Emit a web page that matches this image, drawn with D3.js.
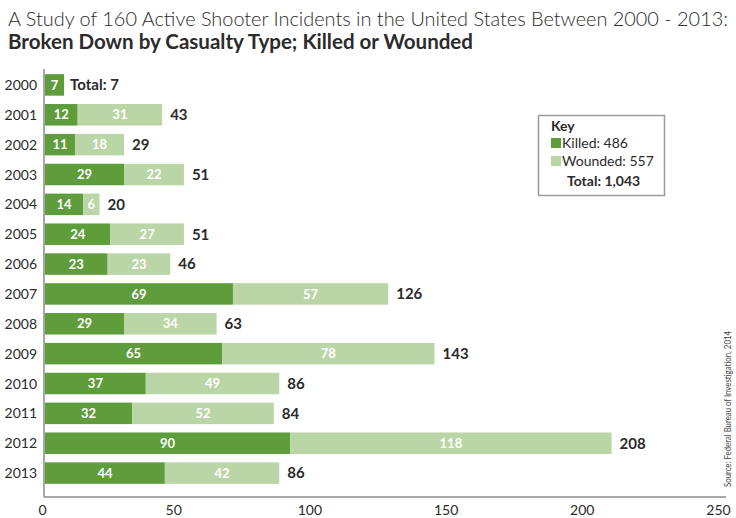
<!DOCTYPE html>
<html><head><meta charset="utf-8">
<script src="https://cdn.jsdelivr.net/npm/d3@7"></script>
<style>
html,body{margin:0;padding:0;background:#fff;}
svg{display:block;font-family:Lato,"Open Sans",sans-serif;}
</style></head>
<body>
<script>
const years = ["2000","2001","2002","2003","2004","2005","2006","2007","2008","2009","2010","2011","2012","2013"];
const killed = [7,12,11,29,14,24,23,69,29,65,37,32,90,44];
const wounded = [0,31,18,22,6,27,23,57,34,78,49,52,118,42];
const xTicks = [0,50,100,150,200,250];
const legendItems = [{label:"Killed: 486", key:"killed"},{label:"Wounded: 557", key:"wounded"}];
const legendTotal = "Total: 1,043";
const titleText = "A Study of 160 Active Shooter Incidents in the United States Between 2000 - 2013:";
const subtitleText = "Broken Down by Casualty Type; Killed or Wounded";
const sourceText = "Source: Federal Bureau of Investigation, 2014";

const W = 736, H = 518;
const colors = {killed:"#5e9c3c", wounded:"#bad6a7"};
const textCol = "#2b2b2b";

const svg = d3.select("body").append("svg").attr("width", W).attr("height", H);

const x = d3.scaleLinear().domain([0,250]).range([45,726]);
const y = d3.scaleBand().domain(years).range([70,488]).paddingInner(0.28).paddingOuter(0.14);

// title
svg.append("text").attr("x",8).attr("y",26).attr("font-size",20).attr("font-weight",300)
  .attr("fill",textCol).attr("textLength",720).attr("lengthAdjust","spacingAndGlyphs").text(titleText);
svg.append("text").attr("x",8).attr("y",49).attr("font-size",20).attr("font-weight",700)
  .attr("fill",textCol).attr("textLength",465).attr("lengthAdjust","spacingAndGlyphs").text(subtitleText);

const data = years.map((yr,i)=>({year:yr, killed:killed[i], wounded:wounded[i], total:killed[i]+wounded[i]}));

// bars
const g = svg.append("g");
g.selectAll("rect.k").data(data).join("rect").attr("class","k")
  .attr("x", x(0)).attr("y", d=>y(d.year)).attr("height", y.bandwidth())
  .attr("width", d=>x(d.killed)-x(0)).attr("fill", colors.killed);
g.selectAll("rect.w").data(data.filter(d=>d.wounded>0)).join("rect").attr("class","w")
  .attr("x", d=>x(d.killed)).attr("y", d=>y(d.year)).attr("height", y.bandwidth())
  .attr("width", d=>x(d.total)-x(d.killed)).attr("fill", colors.wounded);

// in-bar labels
g.selectAll("text.kl").data(data).join("text").attr("class","kl")
  .attr("x", d=>(x(0)+x(d.killed))/2).attr("y", d=>y(d.year)+y.bandwidth()/2).attr("dy","0.36em")
  .attr("text-anchor","middle").attr("font-size",13).attr("font-weight",700).attr("fill","#fff")
  .text(d=>d.killed);
g.selectAll("text.wl").data(data.filter(d=>d.wounded>0)).join("text").attr("class","wl")
  .attr("x", d=>(x(d.killed)+x(d.total))/2).attr("y", d=>y(d.year)+y.bandwidth()/2).attr("dy","0.36em")
  .attr("text-anchor","middle").attr("font-size",13).attr("font-weight",700).attr("fill","#fff")
  .text(d=>d.wounded);
// totals
g.selectAll("text.tl").data(data).join("text").attr("class","tl")
  .attr("x", d=>x(d.total)+ (d.wounded>0?8:6)).attr("y", d=>y(d.year)+y.bandwidth()/2).attr("dy","0.36em")
  .attr("font-size",15).attr("font-weight",700).attr("fill",textCol)
  .text(d=>d.wounded>0? d.total : "Total: "+d.total);

// year labels
svg.selectAll("text.yr").data(years).join("text").attr("class","yr")
  .attr("x",37).attr("y",d=>y(d)+y.bandwidth()/2).attr("dy","0.36em").attr("text-anchor","end")
  .attr("font-size",14).attr("fill",textCol).text(d=>d);

// axes lines
svg.append("line").attr("x1",44).attr("x2",44).attr("y1",69).attr("y2",497).attr("stroke","#8a8a8a").attr("stroke-width",1.5);
const xAxis = d3.axisBottom(x).tickValues(xTicks).tickSize(0).tickPadding(8);
const ax = svg.append("g").attr("transform","translate(0,497)").call(xAxis);
ax.select(".domain").attr("stroke","#8a8a8a").attr("stroke-width",1.5).attr("d","M44,0H726");
ax.selectAll("text").attr("font-family","Lato,sans-serif").attr("font-size",14).attr("fill",textCol)
  .attr("dx",(d,i)=> i===0? -3 : -8);

// legend
const lg = svg.append("g");
lg.append("rect").attr("x",538.5).attr("y",115.5).attr("width",126).attr("height",80)
  .attr("fill","#fff").attr("stroke","#9a9a9a").attr("stroke-width",1.5);
lg.append("text").attr("x",551).attr("y",131).attr("font-size",14).attr("font-weight",700).attr("fill",textCol).text("Key");
legendItems.forEach((it,i)=>{
  lg.append("rect").attr("x",551).attr("y",138+i*18).attr("width",10).attr("height",10).attr("fill",colors[it.key]);
  lg.append("text").attr("x",562).attr("y",148+i*18).attr("font-size",14).attr("fill",textCol).text(it.label);
});
lg.append("text").attr("x",567).attr("y",186).attr("font-size",14).attr("font-weight",700).attr("fill",textCol).text(legendTotal);

// source
svg.append("text").attr("transform","translate(731,409) rotate(-90)").attr("text-anchor","middle")
  .attr("font-size",10).attr("fill","#444").attr("textLength",156).attr("lengthAdjust","spacingAndGlyphs").text(sourceText);
</script>
</body></html>
